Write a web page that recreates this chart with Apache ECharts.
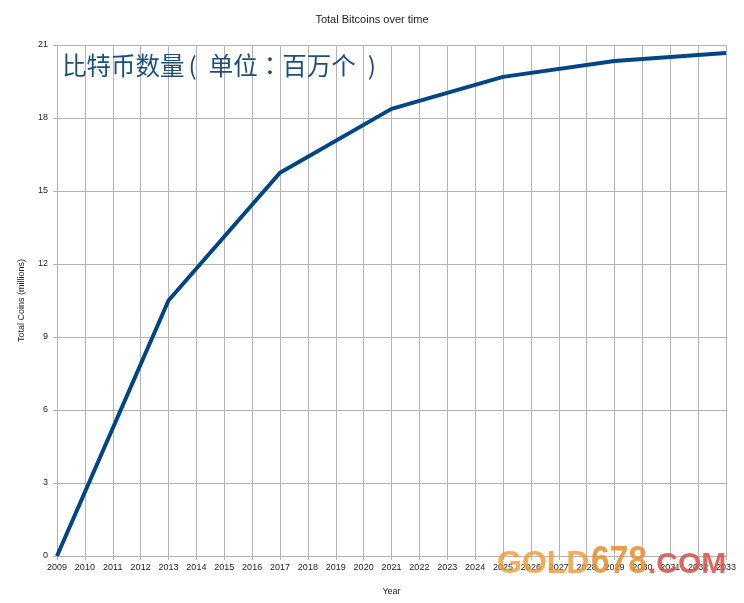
<!DOCTYPE html>
<html><head><meta charset="utf-8">
<script src="https://cdn.jsdelivr.net/npm/echarts@6/dist/echarts.min.js"></script>
<style>html,body{margin:0;padding:0;background:#fff}#c{width:744px;height:603px}</style>
</head><body><div id="c"></div>
<script>
const years = ['2009','2010','2011','2012','2013','2014','2015','2016','2017','2018','2019','2020','2021','2022','2023','2024','2025','2026','2027','2028','2029','2030','2031','2032','2033'];
// values read at the visible kinks (halving years); other years are joined by straight segments
const totalCoins = [0,null,null,null,10.5,null,null,null,15.75,null,null,null,18.375,null,null,null,19.69,null,null,null,20.34,null,null,null,20.67];
const yTicks = [0,3,6,9,12,15,18,21];

const chart = echarts.init(document.getElementById('c'));
const font = 'Liberation Sans, Arial, sans-serif';
const cjk = '24.5px "Noto Sans CJK TC", sans-serif';
const cjkColor = '#1c4f7c';
chart.setOption({
  animation:false,
  backgroundColor:'#fff',
  title:{text:'Total Bitcoins over time',left:'center',top:9,textStyle:{fontFamily:font,fontSize:11,fontWeight:'normal',color:'#222'}},
  grid:{left:57,right:18,top:45,bottom:47},
  xAxis:{type:'category',data:years,boundaryGap:false,name:'Year',nameLocation:'middle',nameGap:31,
    nameTextStyle:{fontFamily:font,fontSize:9,color:'#222'},
    axisLine:{lineStyle:{color:'#b3b3b3'}},axisTick:{show:true,length:4,lineStyle:{color:'#b3b3b3'}},
    axisLabel:{fontFamily:font,fontSize:9,color:'#222',margin:7,interval:0},
    splitLine:{show:true,lineStyle:{color:'#b3b3b3',width:1}}},
  yAxis:{type:'value',min:0,max:21,interval:3,name:'Total Coins (millions)',nameLocation:'middle',nameGap:31,
    nameTextStyle:{fontFamily:font,fontSize:9,color:'#222'},
    axisLine:{show:true,lineStyle:{color:'#b3b3b3'}},axisTick:{show:true,length:4,lineStyle:{color:'#b3b3b3'}},
    axisLabel:{fontFamily:font,fontSize:9,color:'#222',margin:9,formatter:v=>yTicks.includes(v)?String(v):''},
    splitLine:{show:true,lineStyle:{color:'#b3b3b3',width:1}}},
  series:[{type:'line',data:totalCoins,connectNulls:true,symbol:'none',lineStyle:{color:'#004586',width:4},itemStyle:{color:'#004586'}}],
  graphic:[
    {type:'text',left:62,top:53,style:{text:'{t|比特币数量}{l|(}{t|单位：百万个}{r|)}',rich:{
      t:{font:cjk,fill:cjkColor},
      l:{font:cjk,fill:cjkColor,padding:[0,12,0,4]},
      r:{font:cjk,fill:cjkColor,padding:[0,3,0,12]}}},z:10},
    {type:'text',x:497,y:580,style:{text:'GOLD',font:'bold 32px "Liberation Sans", sans-serif',fill:'rgba(238,152,50,0.8)',verticalAlign:'bottom'},z:10},
    {type:'text',x:591,y:582,scaleX:0.86,style:{text:'678',font:'bold 39px "Liberation Sans", sans-serif',fill:'rgba(232,140,45,0.85)',verticalAlign:'bottom'},z:10},
    {type:'text',x:648,y:580,style:{text:'.COM',font:'bold 30px "Liberation Sans", sans-serif',fill:'rgba(214,80,70,0.85)',verticalAlign:'bottom'},z:10}
  ]
});
</script></body></html>
